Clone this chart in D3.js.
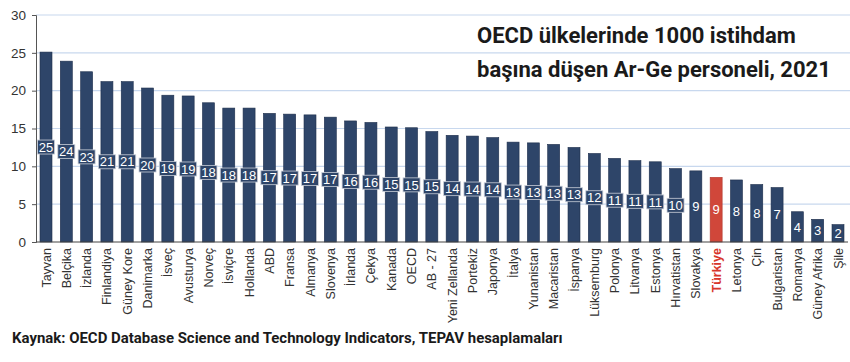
<!DOCTYPE html>
<html>
<head>
<meta charset="utf-8">
<script src="https://cdn.jsdelivr.net/npm/d3@7"></script>
<style>
  body { margin: 0; background: #fff; }
  svg { display: block; }
</style>
</head>
<body>
<div id="chart"></div>
<script>
// data
var countries = ["Tayvan","Belçika","İzlanda","Finlandiya","Güney Kore","Danimarka","İsveç","Avusturya","Norveç","İsviçre",
  "Hollanda","ABD","Fransa","Almanya","Slovenya","İrlanda","Çekya","Kanada","OECD","AB - 27",
  "Yeni Zellanda","Portekiz","Japonya","İtalya","Yunanistan","Macaristan","İspanya","Lüksemburg","Polonya","Litvanya",
  "Estonya","Hırvatistan","Slovakya","Türkiye","Letonya","Çin","Bulgaristan","Romanya","Güney Afrika","Şile"];
var values = [25.1,23.9,22.5,21.2,21.2,20.35,19.4,19.3,18.4,17.7,
  17.7,17.0,16.9,16.8,16.5,16.0,15.8,15.2,15.1,14.6,
  14.1,14.0,13.8,13.2,13.1,12.9,12.5,11.7,11.05,10.75,
  10.6,9.7,9.4,8.55,8.2,7.6,7.2,4.0,3.0,2.3];
var yTicks = [0,5,10,15,20,25,30];
var highlight = "Türkiye";
var titleLines = ["OECD ülkelerinde 1000 istihdam", "başına düşen Ar-Ge personeli, 2021"];
var sourceText = "Kaynak: OECD Database Science and Technology Indicators, TEPAV hesaplamaları";

var width = 850, height = 362;
var barColor = "#2e4569", barStroke = "#1e2f4c", redColor = "#d0473a";

var svg = d3.select("#chart").append("svg")
  .attr("width", width).attr("height", height);

var x = d3.scalePoint().domain(countries).range([46, 838]);
var y = d3.scaleLinear().domain([0, 30]).range([242, 15]);
var barW = 12;

// grid lines
svg.append("g").selectAll("line")
  .data(yTicks.filter(function(d){ return d > 0; }))
  .enter().append("line")
  .attr("x1", 36).attr("x2", 850)
  .attr("y1", function(d){ return y(d); }).attr("y2", function(d){ return y(d); })
  .attr("stroke", "#c8d8ee").attr("stroke-width", 1.2);

// y axis
var yAxis = svg.append("g")
  .attr("transform", "translate(36,0)")
  .call(d3.axisLeft(y).tickValues(yTicks).tickSize(4).tickPadding(6));
yAxis.select(".domain").attr("stroke", "#555");
yAxis.selectAll(".tick line").attr("stroke", "#555");
yAxis.selectAll("text")
  .attr("font-family", "Liberation Sans, Arial, sans-serif")
  .attr("font-size", 13.5).attr("fill", "#333");

// bars
svg.append("g").selectAll("rect")
  .data(countries)
  .enter().append("rect")
  .attr("x", function(d){ return x(d) - barW/2; })
  .attr("width", barW)
  .attr("y", function(d, i){ return y(values[i]); })
  .attr("height", function(d, i){ return y(0) - y(values[i]); })
  .attr("fill", function(d){ return d === highlight ? redColor : barColor; })
  .attr("stroke", function(d){ return d === highlight ? "#b53a2e" : barStroke; })
  .attr("stroke-width", 0.6);

// baseline
svg.append("line")
  .attr("x1", 36).attr("x2", 848)
  .attr("y1", y(0)).attr("y2", y(0))
  .attr("stroke", "#444").attr("stroke-width", 1.2);

// value labels at bar middle
var lab = svg.append("g").selectAll("g")
  .data(countries)
  .enter().append("g")
  .attr("transform", function(d, i){ return "translate(" + x(d) + "," + y(values[i] / 2) + ")"; });

lab.filter(function(d, i){ return Math.round(values[i]) >= 10; })
  .append("rect")
  .attr("x", -8.5).attr("y", -7).attr("width", 17).attr("height", 14)
  .attr("fill", barColor).attr("stroke", "#c9ced8").attr("stroke-width", 0.8);

lab.append("text")
  .attr("text-anchor", "middle").attr("dy", "0.36em")
  .attr("font-family", "Liberation Sans, Arial, sans-serif")
  .attr("font-size", 13).attr("fill", "#fff")
  .text(function(d, i){ return Math.round(values[i]); });

// category labels
svg.append("g").selectAll("text")
  .data(countries)
  .enter().append("text")
  .attr("transform", function(d){ return "translate(" + (x(d) + 4.5) + ",248) rotate(-90)"; })
  .attr("text-anchor", "end")
  .attr("font-family", "Liberation Sans, Arial, sans-serif")
  .attr("font-size", 12.5)
  .attr("font-weight", function(d){ return d === highlight ? "bold" : "normal"; })
  .attr("fill", function(d){ return d === highlight ? "#d8362b" : "#333"; })
  .text(function(d){ return d; });

// title
var title = svg.append("g");
title.selectAll("text")
  .data(titleLines)
  .enter().append("text")
  .attr("x", 477)
  .attr("y", function(d, i){ return 43 + i * 34; })
  .attr("font-family", "Roboto, sans-serif")
  .attr("font-weight", 700)
  .attr("font-size", 20)
  .attr("fill", "#1a1a1a")
  .text(function(d){ return d; });
// match the width of the original title
var t0 = title.select("text").node();
var k = 332 / t0.getComputedTextLength();
title.selectAll("text").attr("font-size", 20 * Math.min(1.1, k));

// source
var src = svg.append("text")
  .attr("x", 12).attr("y", 343)
  .attr("font-family", "Roboto, sans-serif")
  .attr("font-weight", 700)
  .attr("font-size", 14)
  .attr("fill", "#1a1a1a")
  .text(sourceText);
var ks = 551 / src.node().getComputedTextLength();
src.attr("font-size", 14 * ks);
</script>
</body>
</html>
